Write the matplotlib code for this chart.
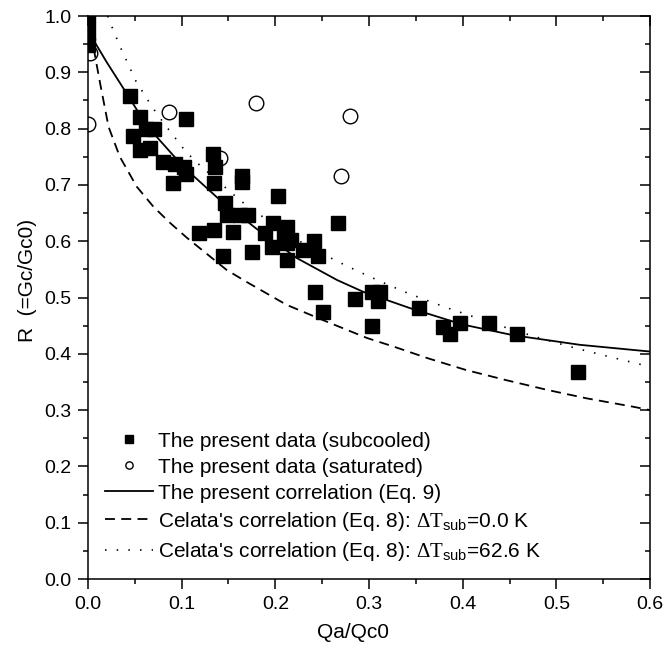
import matplotlib
matplotlib.use('Agg')
import matplotlib.pyplot as plt
from matplotlib.ticker import MultipleLocator

plt.rcParams['font.family'] = ['Liberation Sans', 'DejaVu Sans']
plt.rcParams['mathtext.fontset'] = 'custom'
plt.rcParams['mathtext.rm'] = 'Liberation Serif'
plt.rcParams['mathtext.sf'] = 'Liberation Sans'

# subcooled data (filled squares)
sub_x = [0.0, 0.0, 0.0, 0.045, 0.0555, 0.105, 0.048, 0.062, 0.070, 0.0555,
         0.066, 0.080, 0.093, 0.102, 0.105, 0.091, 0.133, 0.136, 0.134, 0.164,
         0.164, 0.146, 0.148, 0.162, 0.171, 0.203, 0.119, 0.134, 0.155, 0.144,
         0.175, 0.267, 0.189, 0.198, 0.212, 0.209, 0.217, 0.196, 0.212, 0.212,
         0.230, 0.241, 0.246, 0.242, 0.251, 0.285, 0.303, 0.312, 0.310, 0.303,
         0.353, 0.379, 0.386, 0.397, 0.428, 0.458, 0.523]
sub_y = [0.995, 0.970, 0.948, 0.858, 0.821, 0.817, 0.787, 0.800, 0.799, 0.762,
         0.765, 0.741, 0.738, 0.732, 0.720, 0.703, 0.755, 0.732, 0.704, 0.715,
         0.706, 0.667, 0.647, 0.647, 0.647, 0.681, 0.614, 0.620, 0.617, 0.573,
         0.580, 0.633, 0.614, 0.632, 0.626, 0.605, 0.602, 0.590, 0.596, 0.567,
         0.584, 0.600, 0.573, 0.510, 0.474, 0.497, 0.510, 0.510, 0.493, 0.449,
         0.481, 0.448, 0.436, 0.455, 0.455, 0.435, 0.367]

# saturated data (open circles)
sat_x = [0.0, 0.002, 0.087, 0.179, 0.141, 0.280, 0.270]
sat_y = [0.809, 0.935, 0.830, 0.845, 0.748, 0.822, 0.715]

# present correlation (Eq. 9)
cor_x = [0.003, 0.006, 0.020, 0.038, 0.055, 0.073, 0.102, 0.141, 0.180, 0.223,
         0.266, 0.294, 0.344, 0.400, 0.454, 0.525, 0.600]
cor_y = [0.965, 0.957, 0.918, 0.871, 0.826, 0.786, 0.732, 0.673, 0.622, 0.570,
         0.531, 0.510, 0.481, 0.452, 0.433, 0.416, 0.404]

# Celata, dT_sub = 0.0 K
cel0_x = [0.0, 0.008, 0.013, 0.022, 0.034, 0.052, 0.070, 0.088, 0.105, 0.148,
          0.169, 0.212, 0.255, 0.298, 0.326, 0.363, 0.404, 0.447, 0.490, 0.532,
          0.582, 0.600]
cel0_y = [1.0, 0.925, 0.880, 0.803, 0.750, 0.697, 0.661, 0.632, 0.607, 0.549,
          0.528, 0.487, 0.457, 0.428, 0.413, 0.392, 0.371, 0.353, 0.336, 0.321,
          0.306, 0.300]

# Celata, dT_sub = 62.6 K
cel62_x = [0.021, 0.025, 0.030, 0.035, 0.040, 0.051, 0.066, 0.075, 0.084, 0.104,
           0.116, 0.153, 0.166, 0.191, 0.228, 0.264, 0.289, 0.313, 0.338, 0.363,
           0.388, 0.413, 0.449, 0.486, 0.523, 0.561, 0.600]
cel62_y = [1.0, 0.983, 0.963, 0.943, 0.925, 0.885, 0.845, 0.823, 0.803, 0.760,
           0.740, 0.686, 0.668, 0.638, 0.598, 0.566, 0.546, 0.528, 0.510, 0.494,
           0.479, 0.465, 0.445, 0.426, 0.409, 0.393, 0.377]

fig = plt.figure(figsize=(6.64, 6.46), dpi=100)
ax = fig.add_axes([0.1325, 0.1037, 0.8465, 0.8715])

ax.plot(sat_x, sat_y, 'o', ms=10.5, mfc='white', mec='black', mew=1.0,
        label='The present data (saturated)', zorder=2)
ax.plot(sub_x, sub_y, 's', ms=10.3, color='black',
        label='The present data (subcooled)', zorder=3)
ax.plot(cor_x, cor_y, '-', color='black', lw=1.3,
        label='The present correlation (Eq. 9)', zorder=4)
ax.plot(cel0_x, cel0_y, color='black', lw=1.3, ls=(0, (5.5, 3.5)),
        label="Celata's correlation (Eq. 8): $\\mathrm{\\Delta T}_{\\mathsf{sub}}$=0.0 K", zorder=4)
ax.plot(cel62_x, cel62_y, color='black', lw=1.2, ls=(0, (0.9, 6.1)),
        label="Celata's correlation (Eq. 8): $\\mathrm{\\Delta T}_{\\mathsf{sub}}$=62.6 K", zorder=4)

ax.set_xlim(0, 0.6)
ax.set_ylim(0, 1.0)
ax.xaxis.set_major_locator(MultipleLocator(0.1))
ax.xaxis.set_minor_locator(MultipleLocator(0.05))
ax.yaxis.set_major_locator(MultipleLocator(0.1))
ax.yaxis.set_minor_locator(MultipleLocator(0.05))
ax.xaxis.set_major_formatter(plt.FormatStrFormatter('%.1f'))
ax.yaxis.set_major_formatter(plt.FormatStrFormatter('%.1f'))

for s in ax.spines.values():
    s.set_linewidth(1.1)
ax.tick_params(which='both', labelsize=14, width=1.1)
ax.tick_params(which='major', length=7.2)
ax.tick_params(which='minor', length=3.6)
ax.tick_params(which='both', top=True, right=True, bottom=True, left=True)
ax.tick_params(axis='x', pad=5)
ax.tick_params(axis='y', pad=4.5)
# Origin-like: outer ticks on bottom/left, inner on top/right
for t in ax.xaxis.get_major_ticks() + ax.xaxis.get_minor_ticks():
    t.tick1line.set_marker(3)
    t.tick2line.set_marker(3)
for t in ax.yaxis.get_major_ticks() + ax.yaxis.get_minor_ticks():
    t.tick1line.set_marker(0)
    t.tick2line.set_marker(0)

ax.set_xlabel('Qa/Qc0', fontsize=15)
ax.set_ylabel('R  (=Gc/Gc0)', fontsize=15)
ax.xaxis.set_label_coords(0.472, -0.078)
ax.yaxis.set_label_coords(-0.091, 0.53)

h, l = ax.get_legend_handles_labels()
order = [1, 0, 2, 3, 4]
ax.legend([h[i] for i in order], [l[i] for i in order], loc='upper left',
          bbox_to_anchor=(0.03, 0.262), frameon=False, fontsize=15,
          markerscale=0.5, handlelength=2.3, handletextpad=0.25,
          labelspacing=0.34, numpoints=1, borderaxespad=0, borderpad=0)

fig.savefig('out.png', dpi=100)
